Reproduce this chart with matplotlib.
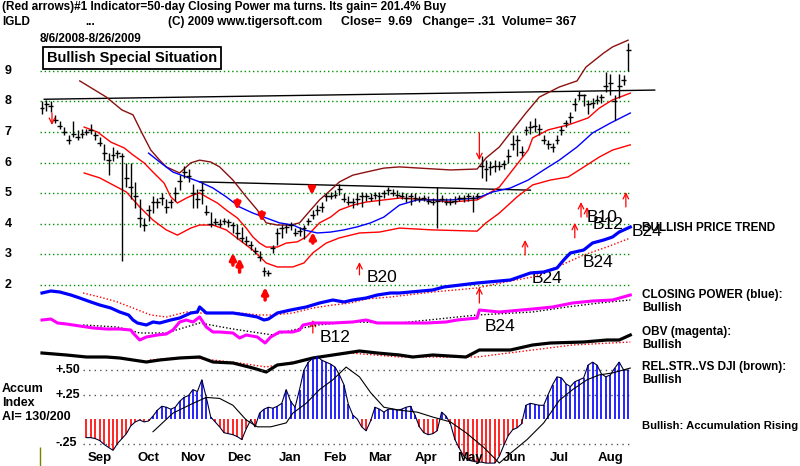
import numpy as np
import matplotlib.pyplot as plt

plt.rcParams['font.family'] = ['Liberation Sans', 'DejaVu Sans']

# ---- price bars, every second session (day 0 = 6 Aug 2008) ----
bar_day = np.arange(0, 265, 2)
close = [7.8, 7.9, 7.85, 7.4, 7.2, 7.0, 6.75, 6.95, 6.85, 6.95,
         7.0, 7.05, 6.9, 6.65, 6.3, 6.1, 6.25, 6.3, 6.2, 5.5,
         5.2, 4.9, 4.2, 3.95, 4.45, 4.7, 4.7, 4.85, 4.55, 4.7,
         5.0, 5.4, 5.7, 5.55, 5.0, 4.8, 5.1, 4.4, 4.0, 4.05,
         4.0, 4.1, 4.05, 3.95, 3.7, 3.55, 3.45, 3.3, 3.1, 2.9,
         2.45, 2.4, 3.2, 3.7, 3.85, 3.9, 3.95, 3.7, 3.75, 3.85,
         4.1, 4.3, 4.45, 4.55, 4.9, 4.9, 4.95, 5.15, 4.8, 4.7,
         4.7, 4.8, 4.9, 4.9, 4.85, 4.95, 4.9, 5.0, 5.1, 5.0,
         4.95, 4.9, 4.85, 4.9, 4.85, 4.8, 4.85, 4.75, 4.7, 4.75,
         4.8, 4.7, 4.7, 4.75, 4.85, 4.85, 4.9, 4.85, 4.9, 5.9,
         5.8, 5.85, 5.9, 5.9, 5.95, 6.2, 6.6, 6.75, 6.35, 7.05,
         7.15, 7.2, 7.1, 6.75, 6.6, 6.5, 6.75, 7.05, 7.3, 7.5,
         7.9, 8.2, 8.2, 7.9, 7.95, 8.05, 8.15, 8.5, 8.6, 8.0,
         8.5, 8.7, 9.69]
high = [8.0, 8.05, 8.0, 7.55, 7.35, 7.15, 6.9, 7.35, 7.05, 7.1,
        7.1, 7.25, 7.0, 6.85, 6.6, 6.3, 6.5, 6.4, 6.3, 6.0,
        6.0, 5.35, 4.8, 4.2, 4.6, 4.9, 4.85, 5.0, 4.8, 4.8,
        5.2, 5.6, 5.9, 5.8, 5.3, 5.15, 5.35, 4.6, 4.4, 4.2,
        4.15, 4.2, 4.15, 4.05, 4.0, 3.9, 3.6, 3.45, 3.25, 3.1,
        2.6, 2.5, 3.3, 3.85, 3.95, 4.0, 4.05, 3.85, 3.9, 3.95,
        4.2, 4.45, 4.6, 4.7, 5.0, 5.05, 5.1, 5.3, 5.0, 4.9,
        4.85, 5.0, 5.05, 5.0, 5.0, 5.05, 5.05, 5.1, 5.2, 5.15,
        5.1, 5.05, 5.0, 5.0, 5.0, 4.9, 4.95, 4.9, 4.85, 5.2,
        4.95, 4.85, 4.85, 4.9, 4.95, 4.95, 5.0, 4.95, 5.0, 6.2,
        6.1, 6.05, 6.1, 6.05, 6.1, 6.45, 6.9, 6.9, 6.55, 7.2,
        7.35, 7.45, 7.25, 6.9, 6.75, 6.65, 6.9, 7.2, 7.4, 7.65,
        8.1, 8.35, 8.25, 8.05, 8.1, 8.2, 8.25, 8.95, 8.9, 8.2,
        8.9, 8.85, 9.9]
low = [7.6, 7.7, 7.65, 7.3, 7.1, 6.9, 6.6, 6.85, 6.75, 6.8,
       6.9, 6.95, 6.75, 6.55, 6.1, 5.6, 6.05, 6.15, 2.8, 5.2,
       4.8, 4.5, 3.9, 3.75, 4.1, 4.35, 4.5, 4.6, 4.35, 4.5,
       4.75, 5.1, 5.5, 5.35, 4.5, 4.5, 4.65, 4.3, 3.9, 3.95,
       3.9, 4.0, 3.9, 3.7, 3.5, 3.4, 3.3, 3.15, 3.0, 2.8,
       2.3, 2.3, 3.05, 3.3, 3.55, 3.7, 3.8, 3.6, 3.6, 3.5,
       3.95, 4.15, 4.3, 4.4, 4.75, 4.8, 4.85, 4.95, 4.7, 4.6,
       4.5, 4.6, 4.55, 4.75, 4.75, 4.8, 4.6, 4.85, 4.95, 4.9,
       4.85, 4.8, 4.7, 4.6, 4.75, 4.7, 4.75, 4.65, 4.6, 3.85,
       4.7, 4.6, 4.6, 4.65, 4.75, 4.7, 4.75, 4.4, 4.8, 5.5,
       5.4, 5.6, 5.7, 5.75, 5.8, 6.0, 6.4, 6.2, 6.2, 6.9,
       6.95, 7.0, 6.9, 6.6, 6.45, 6.35, 6.6, 6.9, 7.15, 7.3,
       7.7, 8.05, 7.85, 7.6, 7.8, 7.9, 7.95, 8.3, 8.2, 7.4,
       8.1, 8.55, 9.0]

# ---- bands and moving average on the price panel ----
upper_day = [17, 29, 36, 41, 45, 49, 53, 56, 62, 67, 71, 76, 80, 86, 92, 97, 101,
             106, 112, 116, 121, 125, 130, 134, 140, 146, 154, 161, 170, 184, 196,
             200, 206, 212, 218, 224, 233, 241, 245, 253, 257, 264]
upper_band = [8.67, 8.14, 7.72, 7.56, 6.97, 6.41, 6.08, 5.86, 5.66, 5.99, 6.08, 6.02,
              5.86, 5.43, 4.88, 4.45, 4.03, 3.96, 3.96, 4.03, 4.45, 4.78, 5.1, 5.37,
              5.59, 5.69, 5.82, 5.86, 5.82, 5.76, 5.79, 6.15, 6.51, 7.07, 7.62, 8.14,
              8.47, 8.67, 9.12, 9.58, 9.78, 10.0]
inner_day = [19, 25, 31, 37, 41, 46, 50, 55, 58, 61, 65, 68, 71, 74, 79, 83, 88, 92,
             95, 98, 101, 106, 110, 115, 119, 122, 125, 130, 134, 140, 146, 154, 161,
             176, 184, 196, 200, 206, 212, 219, 221, 228, 237, 246, 251, 257, 265]
inner_band = [7.16, 7.0, 6.67, 6.48, 6.25, 5.99, 5.69, 5.33, 4.88, 4.68, 4.84, 4.94,
              5.01, 4.88, 4.68, 4.45, 4.19, 3.86, 3.57, 3.37, 3.24, 3.24, 3.37, 3.41,
              3.57, 3.8, 4.03, 4.22, 4.45, 4.61, 4.71, 4.78, 4.84, 4.78, 4.71, 4.78,
              4.94, 5.2, 5.76, 6.41, 6.8, 7.07, 7.23, 7.46, 7.78, 8.05, 8.27]
lower_day = [19, 26, 32, 38, 44, 50, 56, 61, 67, 71, 77, 83, 89, 95, 101, 106, 113,
             118, 122, 128, 134, 143, 152, 161, 176, 196, 200, 206, 214, 221, 229,
             237, 242, 251, 257, 265]
lower_band = [5.66, 5.5, 5.27, 5.04, 4.55, 4.12, 3.8, 3.63, 3.86, 3.96, 3.96, 3.8,
              3.47, 3.14, 2.72, 2.59, 2.59, 2.72, 3.05, 3.37, 3.54, 3.7, 3.73, 3.86,
              3.8, 3.76, 4.03, 4.35, 4.88, 5.27, 5.43, 5.53, 5.76, 6.18, 6.41, 6.58]
ma50_day = [48, 53, 59, 65, 71, 77, 83, 89, 95, 101, 107, 113, 118, 124, 130, 136,
            142, 148, 154, 161, 169, 184, 196, 203, 211, 219, 226, 233, 241, 248,
            256, 265]
ma50 = [6.31, 6.02, 5.69, 5.53, 5.37, 5.17, 4.88, 4.55, 4.35, 4.19, 4.03, 3.96,
        3.8, 3.7, 3.73, 3.8, 3.9, 4.03, 4.22, 4.61, 4.78, 4.78, 4.84, 5.04, 5.17,
        5.43, 5.76, 6.08, 6.51, 6.97, 7.29, 7.62]

# resistance lines (start/end day, price)
resist_long_day = [1, 276]
resist_long = [8.07, 8.37]
resist_short_day = [71, 220]
resist_short = [5.37, 5.10]

# ---- signal arrows (day, tail price, head price) ----
thick_day = [86, 89, 100.5, 122, 88, 99, 121.6]
thick_from = [2.65, 2.42, 1.51, 3.37, 4.78, 4.39, 5.2]
thick_to = [3.05, 2.88, 1.93, 3.73, 4.45, 4.06, 4.94]
thin_day = [143, 217.6, 240, 242.8, 245.5, 263, 197, 122, 197, 4.5]
thin_from = [2.33, 2.98, 3.54, 4.22, 4.22, 4.55, 1.41, 0.43, 6.97, 7.62]
thin_to = [2.75, 3.47, 4.03, 4.71, 4.55, 5.04, 1.93, 0.86, 6.08, 7.23]

sig_text = ['B20', 'B24', 'B24', 'B10', 'B12', 'B24', 'B24', 'B12']
sig_day = [146.4, 220.7, 243.7, 245.5, 248.2, 265.8, 199.5, 125.2]
sig_price = [2.23, 2.2, 2.75, 4.22, 3.99, 3.76, 0.63, 0.3]

# ---- indicator lines (relative units, no scale on the chart) ----
cp_day = [0, 4, 8, 13, 17, 22, 26, 31, 35, 39, 41, 43, 47, 50, 53, 58, 62, 67, 70,
          71, 74, 80, 86, 92, 97, 100, 102, 106, 112, 119, 125, 131, 136, 140, 146,
          151, 157, 161, 176, 181, 196, 211, 220, 226, 232, 235, 238, 244, 248, 253,
          257, 260, 265]
cp = [87, 89, 88, 85, 82, 78, 75, 72, 68, 65, 60, 57, 55, 58, 57, 60, 62, 67, 68,
      73, 67, 67, 67, 65, 63, 60, 61, 67, 70, 73, 77, 80, 78, 80, 82, 85, 87, 87,
      90, 93, 97, 100, 107, 108, 112, 120, 127, 130, 137, 140, 143, 148, 153]
cp_ma_day = [18.5, 26, 34, 41, 49, 56, 65, 71, 89, 98, 104, 113, 122, 131, 139,
             146, 157, 176, 196, 211, 221, 232, 244, 254.5, 265]
cp_ma = [87, 83, 78, 72, 65, 63, 68, 67, 67, 65, 65, 67, 72, 75, 77, 81, 83, 88,
         92, 99, 103, 113, 125, 133, 142]
obv_day = [0, 4, 7, 11, 17, 23, 29, 35, 40, 41, 44, 47, 52, 56, 59, 62, 65, 68, 71,
           74, 77, 80, 86, 89, 92, 97, 100.5, 103, 107, 113, 116, 117.6, 122, 131,
           140, 146, 151, 161, 173, 182, 187, 196, 197, 206, 221, 230, 239, 248,
           257, 265]
obv = [60, 61, 57, 56, 54, 52, 51, 51, 50, 47, 40, 43, 45, 46, 50, 58, 60, 58, 63,
       53, 48, 48, 47, 42, 45, 43, 37, 43, 48, 48, 50, 55, 57, 57, 58, 60, 57, 57,
       57, 58, 60, 62, 70, 68, 71, 73, 77, 79, 80, 85]
obv_ma_day = [18.5, 34, 44, 56, 65, 71, 86, 98, 104, 113, 124, 139, 161, 196, 221,
              236.5, 251, 265]
obv_ma = [55, 53, 47, 47, 53, 57, 51, 47, 45, 50, 55, 58, 57, 65, 68, 73, 77, 80]
rs_day = [0, 11, 20, 29, 35, 41, 47, 53, 62, 71, 77, 86, 95, 101, 106, 113, 122,
          131, 143, 151, 161, 167, 176, 191, 197, 211, 221, 229, 244, 254.5, 260, 265]
rs = [27, 25, 23, 23, 22, 20, 18, 20, 22, 23, 18, 17, 12, 8, 15, 17, 22, 25, 29,
      27, 25, 23, 25, 23, 30, 30, 35, 37, 38, 40, 40, 45]
rs_ma_day = [48.6, 65, 77, 89, 101, 113, 125, 139, 161, 196, 221, 239, 265]
rs_ma = [20, 23, 20, 17, 13, 18, 23, 27, 23, 23, 30, 35, 38]

# ---- accumulation index ----
ai_day = np.arange(20, 265, 2)
ai = [-0.19, -0.19, -0.2, -0.22, -0.26, -0.29, -0.32, -0.25, -0.2, -0.15,
      -0.07, -0.03, -0.01, -0.03, -0.02, 0.03, 0.09, 0.13, 0.12, 0.1,
      0.12, 0.18, 0.22, 0.24, 0.3, 0.28, 0.4, 0.22, 0.02, -0.03,
      -0.08, -0.14, -0.15, -0.16, -0.18, -0.21, -0.1, -0.01, -0.08, 0.06,
      0.1, 0.12, 0.11, 0.13, 0.16, 0.3, 0.18, 0.12, 0.3, 0.5,
      0.58, 0.62, 0.64, 0.6, 0.58, 0.56, 0.53, 0.45, 0.35, 0.15,
      0.04, 0.0, -0.08, -0.12, -0.02, 0.12, 0.1, 0.07, 0.1, 0.1,
      0.09, 0.1, 0.12, 0.13, 0.04, -0.08, -0.14, -0.16, -0.15, -0.12,
      0.07, 0.03, -0.05, -0.21, -0.3, -0.38, -0.42, -0.43, -0.44, -0.44,
      -0.45, -0.45, -0.45, -0.38, -0.27, -0.17, -0.11, -0.09, -0.05, 0.14,
      0.16, 0.15, 0.14, 0.14, 0.25, 0.35, 0.43, 0.42, 0.36, 0.33,
      0.38, 0.4, 0.42, 0.55, 0.58, 0.55, 0.46, 0.43, 0.45, 0.52,
      0.58, 0.5, 0.5]
ai_ma_day = [50, 59, 68, 74, 80, 86, 92, 97, 103, 110, 113, 119, 125, 131, 137,
             143, 148, 154, 161, 169, 176, 184, 191, 199, 206, 211, 218.5, 226,
             233, 239, 245.5, 251, 257, 265]
ai_ma = [-0.13, 0.06, 0.16, 0.22, 0.21, 0.14, -0.01, -0.08, -0.08, -0.04, 0.06,
         0.16, 0.3, 0.4, 0.53, 0.43, 0.27, 0.12, 0.09, 0.07, 0.02, -0.03, -0.14,
         -0.29, -0.45, -0.35, -0.21, -0.04, 0.19, 0.3, 0.4, 0.45, 0.47, 0.52]

months = ['Sep', 'Oct', 'Nov', 'Dec', 'Jan', 'Feb', 'Mar', 'Apr', 'May', 'Jun',
          'Jul', 'Aug']
month_day = [26, 48, 68, 89, 112, 132, 152, 173, 193, 213, 233, 256]
price_ticks = [9, 8, 7, 6, 5, 4, 3, 2]
ai_ticks = [0.5, 0.25, -0.25]
ai_tick_labels = ['+.50', '+.25', '-.25']


def main():
    W, H = 800, 466
    fig = plt.figure(figsize=(W / 100, H / 100), dpi=100)
    fig.patch.set_facecolor('white')

    xl = (-42 / 2.22, (W - 42) / 2.22)

    def overlay(ylim):
        ax = fig.add_axes([0, 0, 1, 1])
        ax.set_xlim(*xl)
        ax.set_ylim(*ylim)
        ax.axis('off')
        ax.patch.set_alpha(0)
        return ax

    # price panel
    pa = overlay((2 - 181 / 30.6, 2 + 285 / 30.6))
    pa.hlines(price_ticks, -1, 265, colors='#009000', linestyles=(0, (1, 2)), lw=1)
    for p in price_ticks:
        pa.text(-16.8, p, str(p), ha='left', va='center', fontsize=9,
                fontweight='bold')
    pa.plot(resist_long_day, resist_long, color='black', lw=1)
    pa.plot(resist_short_day, resist_short, color='black', lw=1)
    pa.plot(upper_day, upper_band, color='#8b1010', lw=1)
    pa.plot(inner_day, inner_band, color='red', lw=1)
    pa.plot(lower_day, lower_band, color='red', lw=1)
    pa.plot(ma50_day, ma50, color='blue', lw=1)
    pa.vlines(bar_day, low, high, colors='black', lw=1)
    pa.hlines(close, bar_day, bar_day + 1.1, colors='black', lw=1)
    pa.hlines(close, bar_day - 1.1, bar_day, colors='black', lw=1)
    for d, a, b in zip(thick_day, thick_from, thick_to):
        pa.annotate('', xy=(d, b), xytext=(d, a),
                    arrowprops=dict(arrowstyle='-|>', color='red', lw=2.5,
                                    mutation_scale=9, shrinkA=0, shrinkB=0))
    for d, a, b in zip(thin_day, thin_from, thin_to):
        pa.annotate('', xy=(d, b), xytext=(d, a),
                    arrowprops=dict(arrowstyle='->', color='red', lw=0.9,
                                    mutation_scale=10, shrinkA=0, shrinkB=0))
    pa.vlines(-0.9, 2 - 181 / 30.6, 2 - 162 / 30.6, colors='#808000', lw=1)

    # closing power, OBV, relative strength
    ia = overlay((-86, 380))
    ia.plot(cp_ma_day, cp_ma, color='red', lw=1, ls=(0, (1, 1.5)))
    ia.plot(cp_day, cp, color='blue', lw=2.3)
    ia.plot(obv_ma_day, obv_ma, color='black', lw=1, ls=(0, (1, 1.5)))
    ia.plot(obv_day, obv, color='#ff00ff', lw=2.2)
    ia.plot(rs_ma_day, rs_ma, color='red', lw=1, ls=(0, (1, 1.5)))
    ia.plot(rs_day, rs, color='black', lw=2.3)

    # accumulation index
    aa = overlay((-47 / 98, 419 / 98))
    aa.hlines(ai_ticks, 18.5, 265, colors='#555555', linestyles=(0, (1, 3)), lw=1)
    for v, s in zip(ai_ticks, ai_tick_labels):
        aa.text(6, v, s, ha='left', va='center', fontsize=9, fontweight='bold')
    ai_arr = np.array(ai)
    colors = np.where(ai_arr >= 0, 'blue', 'red')
    aa.vlines(ai_day, 0, ai_arr, colors=colors, lw=1.2)
    aa.plot(ai_day, ai_arr, color='#000030', lw=0.8)
    aa.plot(ai_ma_day, ai_ma, color='black', lw=0.8)
    for d, m in zip(month_day, months):
        aa.text(d, -0.40, m, ha='center', va='center', fontsize=9.5,
                fontweight='bold')

    # signal labels
    for s, d, p in zip(sig_text, sig_day, sig_price):
        pa.text(d, p, s, ha='left', va='center', fontsize=12.5)

    def ftext(x, y, s, **kw):
        kw.setdefault('fontsize', 8.5)
        kw.setdefault('fontweight', 'bold')
        fig.text(x / W, 1 - y / H, s, ha='left', va='center', **kw)

    ftext(2, 7, '(Red arrows)#1 Indicator=50-day Closing Power ma turns. '
                'Its gain= 201.4% Buy')
    ftext(2, 22, 'IGLD')
    ftext(85, 22, '...')
    ftext(168, 22, '(C) 2009 www.tigersoft.com')
    ftext(341, 22, 'Close=  9.69   Change= .31  Volume= 367', fontsize=8.8)
    ftext(40, 39, '8/6/2008-8/26/2009')
    ftext(47, 58, 'Bullish Special Situation', fontsize=10.5,
          bbox=dict(boxstyle='square,pad=0.25', fc='white', ec='black', lw=1.3))
    ftext(642, 228, 'BULLISH PRICE TREND')
    ftext(642, 295, 'CLOSING POWER (blue):')
    ftext(642, 308, 'Bullish')
    ftext(642, 332, 'OBV (magenta):')
    ftext(642, 345, 'Bullish')
    ftext(642, 367, 'REL.STR..VS DJI (brown):')
    ftext(642, 380, 'Bullish')
    ftext(642, 426, 'Bullish: Accumulation Rising', fontsize=8.1)
    ftext(2, 389, 'Accum', fontsize=9)
    ftext(2, 403, 'Index', fontsize=9)
    ftext(2, 417, 'AI= 130/200', fontsize=9)

    fig.savefig('out.png', dpi=100, facecolor='white')


if __name__ == '__main__':
    main()
